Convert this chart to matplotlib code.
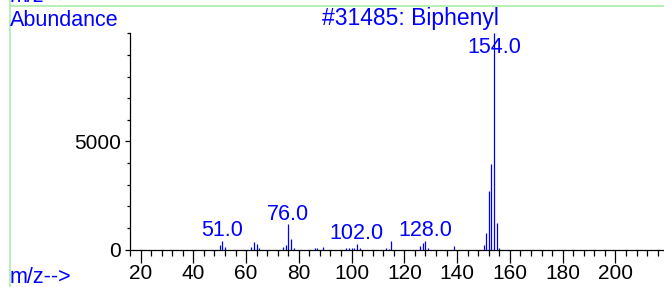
import matplotlib.pyplot as plt
from matplotlib.lines import Line2D
from matplotlib.ticker import MultipleLocator

# Widmo masowe bifenylu (m/z i abundancja)
mz = [50, 51, 52, 62, 63, 64, 65, 74, 75, 76, 77, 78, 86, 87, 89,
      98, 99, 100, 101, 102, 103, 113, 114, 115, 126, 127, 128, 129,
      139, 150, 151, 152, 153, 154, 155, 156]
abundance = [210, 400, 100, 100, 360, 240, 60, 100, 210, 1170, 490, 60, 70, 80, 120,
             90, 50, 50, 80, 260, 50, 60, 30, 380, 180, 300, 400, 60,
             150, 210, 780, 2720, 3960, 10000, 1240, 60]
label_mz = [51, 76, 102, 128, 154]
x_ticks = [20, 40, 60, 80, 100, 120, 140, 160, 180, 200]
y_ticks = [0, 5000]
title = '#31485: Biphenyl'

blue = '#0000ff'
green = '#aaeeaa'
plt.rcParams['font.family'] = ['Liberation Sans', 'DejaVu Sans']
fs = 15.5

W, H = 664, 287
fig = plt.figure(figsize=(W / 100, H / 100), dpi=100)

# Obszar osi w pikselach
x0, x1 = 130, 662.9
y0, y1 = 249.5, 33.5
ax = fig.add_axes([x0 / W, (H - y0) / H, (x1 - x0) / W, (y0 - y1) / H])
ax.set_xlim(16, 218)
ax.set_ylim(0, 10000)

ax.vlines(mz, 0, abundance, colors=blue, linewidth=0.9)

for m in label_mz:
    a = abundance[mz.index(m)]
    ax.text(m, min(a + 210, 9100), f'{m:.1f}', color=blue, fontsize=fs,
            ha='center', va='baseline')

for s in ['top', 'right']:
    ax.spines[s].set_visible(False)
ax.spines['left'].set_linewidth(0.9)
ax.spines['bottom'].set_linewidth(0.9)

ax.set_xticks(x_ticks)
ax.xaxis.set_minor_locator(MultipleLocator(4))
ax.set_yticks(y_ticks)
ax.set_yticks(range(1000, 10001, 1000), minor=True)
ax.tick_params(axis='x', which='major', direction='out', length=9, width=0.9,
               labelsize=15, pad=1.5)
ax.tick_params(axis='x', which='minor', direction='out', length=4, width=0.9)
ax.tick_params(axis='y', which='major', direction='out', length=3.5, width=0.9,
               labelsize=15, pad=3)
ax.tick_params(axis='y', which='minor', direction='out', length=2, width=0.9)

# Napisy w rogach
fig.text(10 / W, 1 - 26 / H, 'Abundance', color=blue, fontsize=fs, va='baseline')
fig.text(410 / W, 1 - 25 / H, title, color=blue, fontsize=16.5, ha='center', va='baseline')
fig.text(10 / W, 1 - 283 / H, 'm/z-->', color=blue, fontsize=fs, va='baseline')
fig.text(10 / W, 1 - 1.5 / H, 'm/z-->', color=blue, fontsize=fs, va='baseline')

# Zielona ramka
fig.add_artist(Line2D([10 / W, 1], [1 - 5.7 / H, 1 - 5.7 / H], color=green, linewidth=1.2))
fig.add_artist(Line2D([10 / W, 10 / W], [0, 1], color=green, linewidth=1.2))

fig.savefig('out.png', dpi=100)
